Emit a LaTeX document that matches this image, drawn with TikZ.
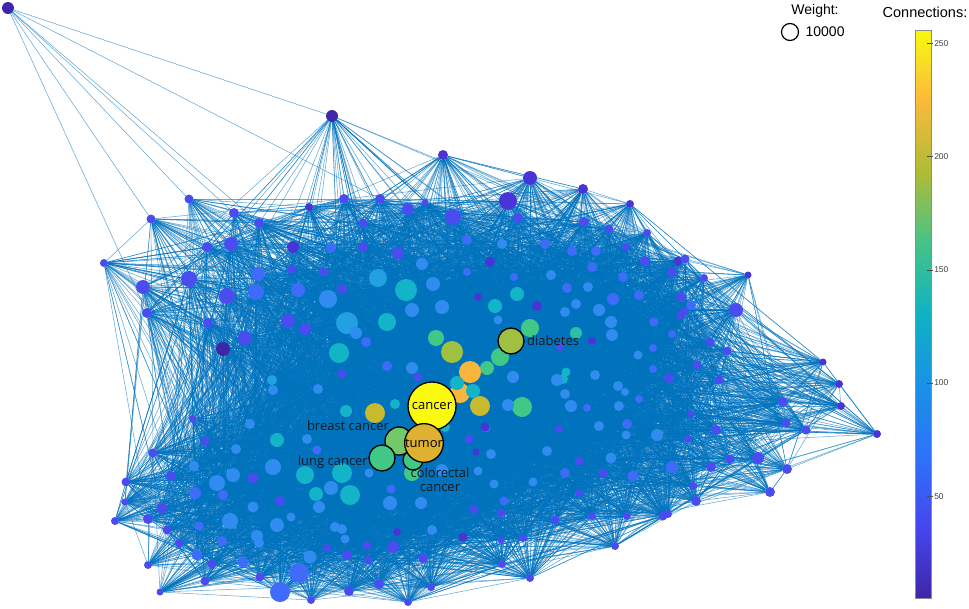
\documentclass[tikz,border=0pt]{standalone}
\usepackage{fontspec}
\setmainfont{Liberation Sans}
\newfontfamily\opensans{Open Sans}
\usepackage{tikz}
\usetikzlibrary{positioning}
\usetikzlibrary{backgrounds}
\usetikzlibrary{calc}

% parula-like colours for the nodes
\definecolor{pc1}{RGB}{62,38,168}
\definecolor{pc2}{RGB}{72,52,215}
\definecolor{pc3}{RGB}{74,76,240}
\definecolor{pc4}{RGB}{62,108,248}
\definecolor{pc5}{RGB}{48,140,238}
\definecolor{pc6}{RGB}{35,160,225}
\definecolor{pc7}{RGB}{20,180,200}
\definecolor{pc8}{RGB}{45,190,165}
\definecolor{pc9}{RGB}{65,200,135}
\definecolor{pc10}{RGB}{115,200,105}
\definecolor{pc11}{RGB}{160,192,65}
\definecolor{pc12}{RGB}{200,185,45}
\definecolor{pc13}{RGB}{222,178,48}
\definecolor{pc14}{RGB}{250,182,60}
\definecolor{pc15}{RGB}{250,250,15}
\definecolor{linkblue}{RGB}{0,114,189}

% colour bar stops
\definecolor{bar0}{RGB}{62,38,168}
\definecolor{bar1}{RGB}{70,70,238}
\definecolor{bar2}{RGB}{45,115,250}
\definecolor{bar3}{RGB}{25,145,230}
\definecolor{bar4}{RGB}{15,178,195}
\definecolor{bar5}{RGB}{70,195,135}
\definecolor{bar6}{RGB}{175,188,55}
\definecolor{bar7}{RGB}{250,185,60}
\definecolor{bar8}{RGB}{249,250,15}
\pgfdeclareverticalshading{parula}{100bp}{color(0bp)=(bar0); color(25bp)=(bar0);
  color(31.25bp)=(bar1); color(37.5bp)=(bar2); color(43.75bp)=(bar3);
  color(50bp)=(bar4); color(56.25bp)=(bar5); color(62.5bp)=(bar6);
  color(68.75bp)=(bar7); color(75bp)=(bar8); color(100bp)=(bar8)}

\tikzset{
  vertex/.style = {circle, inner sep=0pt, outer sep=0pt},
  hub/.style = {vertex, draw=black, line width=1.3pt, font=\opensans\fontsize{13}{14}\selectfont}
}
\tikzset{
  link/.style = {draw=linkblue, line width=0.55pt, draw opacity=0.6},
  tag/.style = {inner sep=0pt, text=black!90, font=\opensans\fontsize{13}{14.4}\selectfont}
}

% x/y/radius/colour of every keyword
\def\graphnodes{8/8/6/1,332/116/6/1,443/155/5/2,530/178/7/2,583/189/5/2,630/204/4/2,%
508/201/9/2,453/217/8/3,408/209/6/3,425/203/3.5/3,518/218/5/3,584/222/5/3,%
609/229/4.5/3,647/233/4/3,189/199/4.5/3,151/219/4.5/3,234/213/5/3,259/223/5/3,%
309/207/4/2,344/199/5/3,380/199/5/3,363/223/4.5/3,231/244/7/3,207/247/5/3,%
293/247/6/2,331/248/5/4,363/247/5/3,398/253/6/3,104/263/4/3,143/287/7/3,%
189/279/8/3,258/274/7/4,292/269/4.5/3,324/272/4.5/3,147/313/5/3,227/296/8/3,%
256/292/8/4,298/290/7/4,328/299/9/5,342/289/5/3,378/278/9/6,406/290/11/7,%
208/323/5/3,288/321/7/3,305/329/6/3,347/323/11/6,356/333/6/5,387/322/9/7,%
245/338/7/3,223/349/7/1,339/353/10/7,366/342/5/4,387/366/5/4,342/374/4.5/3,%
272/380/5/6,273/390/5/5,318/389/5/5,346/411/6/7,375/413/10/12,395/404/5/7,%
193/419/4/3,250/424/5/5,467/240/5/4,502/244/5/5,545/244/5/4,572/251/5/4,%
596/251/5/4,626/247/4/3,422/264/6/5,490/262/5/2,467/272/4/4,514/277/4/4,%
551/275/5/5,592/267/5/4,623/277/5/4,645/261/5/3,433/284/7/5,478/297/4/2,%
517/294/7/7,567/288/5/4,588/287/5/5,613/299/6/4,639/295/5/4,412/310/7/5,%
442/307/7/5,495/306/7/7,537/306/5/2,576/304/5/5,565/312/5/5,599/310/6/5,%
678/261/4.5/2,685/259/4.5/3,748/275/3.5/2,704/278/4/3,672/272/5/3,736/310/7/3,%
681/297/5/3,691/305/5/4,684/312/4.5/3,680/316/4/3,611/322/6/5,612/335/6/5,%
654/322/4.5/4,672/334/4/4,710/342/4.5/3,727/351/4.5/3,576/333/6/8,592/341/4/2,%
560/347/4/3,638/355/4.5/5,653/348/4/4,697/365/4.5/3,653/369/4/4,669/378/5/3,%
719/380/4.5/3,566/372/4.5/7,563/379/5/7,595/375/5/5,618/386/5/5,625/392/4/5,%
565/394/5/5,571/406/6/5,587/408/4/4,619/406/5/5,639/399/4/4,823/362/3.5/2,%
839/384/4/2,841/406/4/2,783/402/5/3,786/423/4.5/3,806/430/4.5/3,877/434/4/2,%
716/430/5/3,691/414/3.5/3,688/439/4/3,627/424/5/4,599/426/5/5,626/435/4.5/5,%
657/435/6/5,559/429/4/3,480/406/10/12,522/407/10/9,508/405/6/5,486/428/4.5/4,%
491/454/5/5,547/451/5/5,579/461/4.5/3,611/458/5.5/5,672/467/6/4,711/467/5/3,%
730/459/4.5/3,758/458/6/3,787/469/5/3,565/473/5/4,603/473/4.5/3,633/476/5.5/4,%
533/482/4.5/5,494/484/4.5/5,579/493/4/3,693/486/4/3,770/492/5/3,504/501/4.5/4,%
696/501/5/3,501/513/4.5/3,555/520/4.5/3,592/516/4/3,627/516/4/3,663/516/4.5/3,%
668/514/4/3,501/540/3.5/3,523/538/4/3,615/546/4/3,502/564/4/3,530/578/4/3,%
153/453/4.5/3,205/441/4.5/3,171/476/5/3,194/466/5/5,236/449/5/5,277/440/7/7,%
307/439/5/5,317/450/4.5/4,126/482/4.5/3,125/502/3.5/3,115/521/4/3,217/483/8/5,%
233/475/7/5,253/478/5.5/3,273/467/8/5,305/475/9/7,342/473/10/7,369/473/4.5/5,%
331/488/7/5,316/494/7/7,350/495/10/7,195/493/6/4,223/495/5/4,162/508/5.5/3,%
148/519/5/3,167/530/4.5/3,199/526/4.5/4,230/521/8/5,253/507/5.5/5,280/501/5/3,%
291/517/4.5/5,277/525/7/5,319/507/6/5,335/527/5/5,342/529/5/5,345/539/4.5/5,%
257/536/6/5,259/543/5/5,222/541/5/4,179/543/4.5/3,197/555/5.5/4,148/565/4/3,%
212/564/4.5/3,243/562/5.5/4,260/577/4.5/3,205/581/4.5/3,160/592/3.5/3,310/557/6.5/5,%
299/573/10/4,280/592/10/4,311/600/4/3,327/548/4/3,347/555/5/3,367/546/4.5/3,%
368/560/4/3,349/591/5/3,379/584/5/3,408/602/4/3,393/547/6/3,431/587/4/3,%
423/558/5/3,432/530/5/5,463/537/4.5/2,397/532/4/2,390/503/7/5,421/503/6/5,%
391/489/4.5/4,474/509/4.5/3,478/471/4.5/5,476/452/3.5/2,469/439/4.5/3,530/328/9/9,%
500/357/9/9,487/368/7/9,452/352/11/11,436/338/8/9,470/372/11/14,460/393/10/14,%
457/383/7/7,473/391/7/7,445/427/5/7,412/368/6/5,418/377/4.5/3,513/377/6/5,%
498/320/4.5/5,485/427/4.5/2,442/470/6/5,557/380/6/5,412/473/8/9}

\begin{document}
\begin{tikzpicture}[x=1pt, y=-1pt]
  \useasboundingbox (0,0) rectangle (969,608);
  \pgfmathsetseed{4242}

  % Keywords
  \foreach \x/\y/\rad/\col [count=\i] in \graphnodes
    \node[vertex, minimum size=2*\rad, fill=pc\col] (n\i) at (\x,\y) {};

  % Highlighted keywords
  \node[hub, minimum size=20, fill=pc9, alias=colorectal] (n264) at (413,460) {};
  \node[hub, minimum size=28, fill=pc10, alias=breast] (n265) at (399,441) {};
  \node[hub, minimum size=26, fill=pc9, alias=lung] (n266) at (382,458) {};
  \node[hub, minimum size=26, fill=pc11, alias=diabetes] (n267) at (511,341) {};
  \node[hub, minimum size=48, fill=pc15, alias=cancer] (n268) at (432,406) {cancer};
  \node[hub, minimum size=38, fill=pc13, alias=tumor] (n269) at (424,443) {tumor};

  \node[tag, anchor=south east] (breasttag) at (breast.north west) {breast cancer};
  \node[tag, left=1pt of lung, yshift=-4pt] (lungtag) {lung cancer};
  \node[tag, align=center, anchor=north] (colorectaltag)
    at ([xshift=27pt, yshift=3pt]colorectal.south) {colorectal\\cancer};
  \node[tag, right=3pt of diabetes] (diabetestag) {diabetes};

  % Co-occurrence links (distances measured in units of 20pt)
  \begin{scope}[on background layer]
    \foreach \t in {2,16,17,18,21,23,35}
      \draw[link] (n1) -- (n\t);
    \foreach \x/\y/\rad/\col [count=\i] in \graphnodes {
      \pgfmathsetmacro{\rsq}{((230+24*\col)/20)^2}
      \foreach \k in {1,...,65} {
        \pgfmathrandominteger{\j}{2}{269}
        \pgfpointdiff{\pgfpointanchor{n\i}{center}}{\pgfpointanchor{n\j}{center}}
        \pgfgetlastxy{\dx}{\dy}
        \pgfmathsetmacro{\dsq}{(\dx/20)^2+(\dy/20)^2}
        \ifdim\dsq pt<\rsq pt\relax
          \ifdim\dsq pt>0.01pt\relax \draw[link] (n\i) -- (n\j); \fi
        \fi
      }
    }
    \foreach \i in {264,...,269} {
      \foreach \k in {1,...,200} {
        \pgfmathrandominteger{\j}{2}{263}
        \pgfpointdiff{\pgfpointanchor{n\i}{center}}{\pgfpointanchor{n\j}{center}}
        \pgfgetlastxy{\dx}{\dy}
        \pgfmathsetmacro{\dsq}{(\dx/20)^2+(\dy/20)^2}
        \ifdim\dsq pt<506pt\relax \draw[link] (n\i) -- (n\j); \fi
      }
    }
  \end{scope}

  % Legend
  \node[font=\fontsize{14}{16}\selectfont] (weighttitle) at (815,11) {Weight:};
  \node[circle, draw=black, line width=1.2pt, minimum size=17, inner sep=0pt] (legendring) at (790,32) {};
  \node[font=\fontsize{14}{16}\selectfont, right=3pt of legendring] (weightvalue) {10000};
  \node[font=\fontsize{14.5}{16}\selectfont] (conntitle) at (925,12) {Connections:};

  % Colour bar
  \shade[shading=parula] (915,30) rectangle (931,598);
  \draw[black!45, line width=0.5pt] (915,30) rectangle (931,598);
  \foreach \v in {50,100,...,250} {
    \pgfmathsetmacro{\ty}{598-(\v-5)*2.263}
    \draw[black!70, line width=0.5pt] (927,\ty) -- (933,\ty)
      node[right, inner sep=1pt, text=black!75, font=\fontsize{8.5}{10}\selectfont] (tick\v) {\v};
  }
\end{tikzpicture}
\end{document}
